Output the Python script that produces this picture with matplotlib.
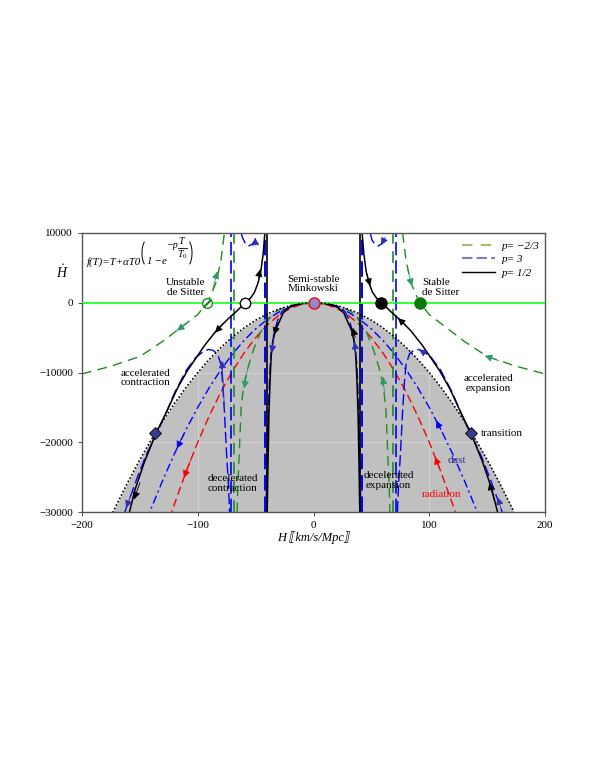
import matplotlib
matplotlib.use('Agg')
import matplotlib.pyplot as plt
from matplotlib.lines import Line2D
from matplotlib.patches import Arc
import numpy as np

plt.rcParams['font.family'] = ['Liberation Serif', 'DejaVu Serif', 'DejaVu Sans']
plt.rcParams['mathtext.fontset'] = 'custom'
plt.rcParams['mathtext.rm'] = 'Liberation Serif'
plt.rcParams['mathtext.it'] = 'Liberation Serif:italic'
plt.rcParams['mathtext.bf'] = 'Liberation Serif:bold'

# values (right half, H >= 0); left half is the mirror image
h_grid = [0, 10, 20, 30, 40, 50, 60, 70, 80, 90, 100, 110, 120, 130, 140, 150, 160, 170]
hdot_accel = [0, -100, -400, -900, -1600, -2500, -3600, -4900, -6400, -8100, -10000,
              -12100, -14400, -16900, -19600, -22500, -25600, -28900]   # dotted q = 0
h_accel_end, hdot_accel_end = 173.2, -30000
hdot_dust = [0, -150, -600, -1350, -2400, -3750, -5400, -7350, -9600, -12150, -15000,
             -18150, -21600, -25350, -29400]
h_dust_end = 141.4
hdot_rad = [0, -200, -800, -1800, -3200, -5000, -7200, -9800, -12800, -16200, -20000,
            -24200, -28800]
h_rad_end = 122.5

# p = 1/2 (black)
h_half_out = [40.8, 42, 43.5, 45.5, 48, 51, 54.5, 59, 66, 74, 84, 94, 109, 118, 126, 136, 146, 154, 159]
hdot_half_out = [30000, 10000, 7000, 4500, 2800, 1500, 650, 0, -1150, -2340, -4000, -6100,
                 -9750, -12400, -15300, -18700, -22800, -26700, -30000]
h_half_in = [0, 10, 20, 26, 30, 33, 35, 36.5, 37.5, 38.5, 39.3, 40]
hdot_half_in = [0, -120, -550, -1400, -2900, -4000, -5500, -7500, -11000, -16000, -23000, -30000]

# p = -2/3 (green)
h_m23_out = [77, 80, 84, 88, 92, 100, 114.6, 130, 150, 175, 200]
hdot_m23_out = [10000, 6000, 3000, 1300, 0, -1700, -3540, -5500, -7700, -9100, -10200]
h_m23_in = [0, 12, 24, 32, 38, 46, 52, 57, 60, 62.5, 64, 65.5, 66]
hdot_m23_in = [0, -150, -600, -1200, -2200, -4300, -6800, -9500, -11600, -15000, -21000, -27000, -30000]

# p = 3 (blue dashed)
h_p3_top = [49, 50.5, 53, 56, 58.5, 61, 62.6]
hdot_p3_top = [10000, 9000, 8400, 8150, 8400, 9200, 10000]
h_p3_loop = [72.5, 73.5, 75, 77, 78.5, 80, 83, 87, 91, 96, 102, 110, 120, 130, 137, 145, 153, 158, 163]
hdot_p3_loop = [-30000, -26000, -22000, -15500, -11500, -8800, -7300, -6800, -6700, -7100,
                -7900, -9700, -12900, -16800, -19200, -22000, -25400, -27700, -30000]
h_p3_in = [0, 10, 20, 27, 31, 34, 36, 37.5, 38.5, 39.5, 40.3, 41]
hdot_p3_in = [0, -100, -450, -1200, -2500, -4300, -6300, -9000, -13000, -18000, -24000, -30000]

legend_labels = ['p= \u22122/3', 'p= 3', 'p= 1/2']

GREEN = '#1e8c1e'
BLUE = '#0000ff'
ARROW_GREEN = '#2e9a66'
ARROW_BLUE = '#3030b0'

W, H = 595, 770
fig = plt.figure(figsize=(W / 100, H / 100), dpi=100)
ax = fig.add_axes([82 / W, 1 - 512 / H, 463 / W, 279 / H])
ax.set_xlim(-200, 200)
ax.set_ylim(-30000, 10000)


def both(h, v):
    h = np.asarray(h, float)
    v = np.asarray(v, float)
    return (-h[::-1], v[::-1]), (h, v)


# shaded decelerated region under q = 0
hp = np.array(h_grid + [h_accel_end])
vp = np.array(hdot_accel + [hdot_accel_end])
hx = np.concatenate([-hp[::-1], hp[1:]])
vx = np.concatenate([vp[::-1], vp[1:]])
shade = ax.fill_between(hx, vx, -30000, color='#c0c0c0', lw=0, zorder=0.5)
ax.plot(hx, vx, color='black', lw=1.3, linestyle=(0, (0.1, 2.0)),
        dash_capstyle='round', zorder=3)

# faint grid, only seen on the shaded part
for gx in [-100, 100]:
    ln = ax.axvline(gx, color='#d3d3d3', lw=0.7, zorder=0.6)
    ln.set_clip_path(shade.get_paths()[0], ax.transData)
for gy in [-10000, -20000]:
    ln = ax.axhline(gy, color='#d3d3d3', lw=0.7, zorder=0.6)
    ln.set_clip_path(shade.get_paths()[0], ax.transData)

# dust and radiation
hd = np.array(h_grid[:len(hdot_dust)] + [h_dust_end])
vd = np.array(hdot_dust + [-30000])
hr = np.array(h_grid[:len(hdot_rad)] + [h_rad_end])
vr = np.array(hdot_rad + [-30000])
for s in (-1, 1):
    ax.plot(s * hd, vd, color=BLUE, lw=1, linestyle=(0, (6, 2.5, 1.5, 2.5)), zorder=2)
    ax.plot(s * hr, vr, color='red', lw=1, linestyle=(0, (6, 3)), zorder=2)

# p = -2/3
for (x, y) in both(h_m23_out, hdot_m23_out) + both(h_m23_in, hdot_m23_in):
    ax.plot(x, y, color=GREEN, lw=1, linestyle=(0, (7, 4.5)), zorder=2)
for s in (-1, 1):
    ax.axvline(s * 68.5, color=GREEN, lw=1.2, linestyle=(0, (7, 4.5)), zorder=2)

# p = 3
for (x, y) in both(h_p3_top, hdot_p3_top) + both(h_p3_loop, hdot_p3_loop) + both(h_p3_in, hdot_p3_in):
    ax.plot(x, y, color=BLUE, lw=1, linestyle=(0, (8, 3)), zorder=2.2)
for s in (-1, 1):
    ax.axvline(s * 71, color=BLUE, lw=1.2, linestyle=(0, (8, 3)), zorder=2.2)
    ax.axvline(s * 42, color=BLUE, lw=1.4, linestyle=(0, (8, 3)), zorder=2.2)

# p = 1/2
for (x, y) in both(h_half_out, hdot_half_out) + both(h_half_in, hdot_half_in):
    ax.plot(x, y, color='black', lw=1.1, zorder=2.5)
for s in (-1, 1):
    ax.axvline(s * 40.5, color='black', lw=1.2, zorder=2.5)

ax.axhline(0, color='#00ff00', lw=1.1, zorder=2.6)


def arrow(x0, y0, x1, y1, color):
    ax.annotate('', xy=(x1, y1), xytext=(x0, y0),
                arrowprops=dict(arrowstyle='-|>', color=color, lw=0.6,
                                mutation_scale=11, shrinkA=0, shrinkB=0),
                zorder=4)


# black
arrow(-47.5, 3600, -46, 4800, 'black')
arrow(-78, -3000, -85, -4300, 'black')
arrow(-150, -25800, -155, -28200, 'black')
arrow(46, 4200, 49, 2400, 'black')
arrow(80, -3300, 73, -2200, 'black')
arrow(156, -28300, 152, -25800, 'black')
arrow(-31, -2900, -34, -4600, 'black')
arrow(36, -5000, 34, -3600, 'black')
# green
arrow(-87, 2000, -83, 4500, ARROW_GREEN)
arrow(-108, -2800, -118, -4000, ARROW_GREEN)
arrow(81, 5000, 85, 2400, ARROW_GREEN)
arrow(160, -8300, 148, -7600, ARROW_GREEN)
arrow(-57, -9500, -60, -12300, ARROW_GREEN)
arrow(61.5, -13200, 60, -10600, ARROW_GREEN)
# blue p = 3
arrow(-50, 8600, -54, 8200, ARROW_BLUE)
arrow(62, 9400, 58.5, 8250, ARROW_BLUE)
arrow(-77, -15000, -79, -8300, ARROW_BLUE)
arrow(98, -7400, 91, -6700, ARROW_BLUE)
arrow(-157, -27300, -162, -29400, ARROW_BLUE)
arrow(162, -29500, 159, -27900, ARROW_BLUE)
arrow(-34.5, -5000, -36, -7200, ARROW_BLUE)
arrow(37, -7800, 35.5, -5600, ARROW_BLUE)
# dust and radiation
arrow(-112, -18800, -118, -20900, BLUE)
arrow(110, -18200, 106, -16900, BLUE)
arrow(-106, -22500, -112, -25100, 'red')
arrow(109, -23800, 105, -22100, 'red')

# fixed points
ax.plot(-59.5, 0, 'o', ms=7.5, mfc='white', mec='black', mew=1, zorder=5)
ax.plot(58.5, 0, 'o', ms=8, mfc='black', mec='black', zorder=5)
ax.plot(-92, 0, 'o', ms=7, mfc='white', mec=GREEN, mew=1, zorder=5)
ax.plot(-92, 0, marker=(2, 2, -45), ms=8, mec=GREEN, mew=1, zorder=5.1)
ax.plot(92, 0, 'o', ms=8, mfc='#0a7a0a', mec='#0a7a0a', zorder=5)
ax.plot(0, 0, 'o', ms=8, mfc='#8a8ad0', mec='red', mew=1, zorder=5)
ax.plot([-137, 136], [-18700, -18700], 'D', ms=6, mfc='#3a3a90', mec='black', mew=0.6, zorder=5)

# annotations
fs = 8
ax.text(-110.5, 2150, 'Unstable\nde Sitter', fontsize=fs, ha='center', va='center', linespacing=1.1)
ax.text(0, 2700, 'Semi-stable\nMinkowski', fontsize=fs, ha='center', va='center', linespacing=1.1)
ax.text(94, 2200, 'Stable\nde Sitter', fontsize=fs, ha='left', va='center', linespacing=1.1)
ax.text(-145, -10800, 'accelerated\ncontraction', fontsize=fs, ha='center', va='center', linespacing=1.1)
ax.text(-70, -25900, 'decelerated\ncontraction', fontsize=fs, ha='center', va='center', linespacing=1.1)
ax.text(151, -11600, 'accelerated\nexpansion', fontsize=fs, ha='center', va='center', linespacing=1.1)
ax.text(65, -25500, 'decelerated\nexpansion', fontsize=fs, ha='center', va='center', linespacing=1.1)
ax.text(145, -18700, 'transition', fontsize=fs, ha='left', va='center')
ax.text(124, -22600, 'dust', fontsize=fs, ha='center', va='center', color='#2b2b8c')
ax.text(110.5, -27500, 'radiation', fontsize=fs, ha='center', va='center', color='red')


# formula f(T) = T + alpha T0 (1 - exp(-p T/T0)), laid out piece by piece
def ftext(x, y, s, size, **kw):
    fig.text(x / W, 1 - y / H, s, fontsize=size, va='center', **kw)


ftext(87, 262, 'f(T)=T+\u03b1T0', 7.8, style='italic', ha='left')
ftext(147, 262, '1\u2009\u2212e', 7.8, style='italic', ha='left')
ftext(166.5, 246, '\u2212p', 7.2, style='italic', ha='left')
ftext(181.5, 241.5, 'T', 7.2, style='italic', ha='center')
ftext(182, 254.5, r'$T_0$', 7.2, ha='center')
fig.add_artist(Line2D([177.5 / W, 186.5 / W], [1 - 248 / H, 1 - 248 / H],
                      transform=fig.transFigure, color='black', lw=0.6))
# tall thin parentheses
fig.add_artist(Arc((148 / W, 1 - 253 / H), 12 / W, 28 / H, theta1=112, theta2=248,
                   transform=fig.transFigure, color='black', lw=0.7))
fig.add_artist(Arc((186 / W, 1 - 253 / H), 12 / W, 28 / H, theta1=-68, theta2=68,
                   transform=fig.transFigure, color='black', lw=0.7))

fig.text(62 / W, 1 - 272 / H, r'$\dot{H}$', fontsize=10, ha='center', va='center')
ax.set_xlabel('H \u27e6km/s/Mpc\u27e7', fontsize=9, style='italic', labelpad=1)

ax.set_xticks([-200, -100, 0, 100, 200])
ax.set_yticks([10000, 0, -10000, -20000, -30000])
ax.tick_params(labelsize=8, direction='out', length=3, width=0.6, colors='#333333', labelcolor='black')
for sp in ax.spines.values():
    sp.set_color('#555555')
    sp.set_linewidth(1)

handles = [Line2D([], [], color='#b4b46c', lw=1.5, linestyle=(0, (5, 4))),
           Line2D([], [], color='#7b7bc8', lw=1.5, linestyle=(0, (5, 2))),
           Line2D([], [], color='black', lw=1)]
ax.legend(handles, legend_labels, loc='upper right', frameon=False, handlelength=3.0,
          handletextpad=0.6, labelspacing=0.35, prop={'style': 'italic', 'size': 8},
          bbox_to_anchor=(1.005, 1.0), borderaxespad=0.3)

fig.savefig('out.png', dpi=100)
